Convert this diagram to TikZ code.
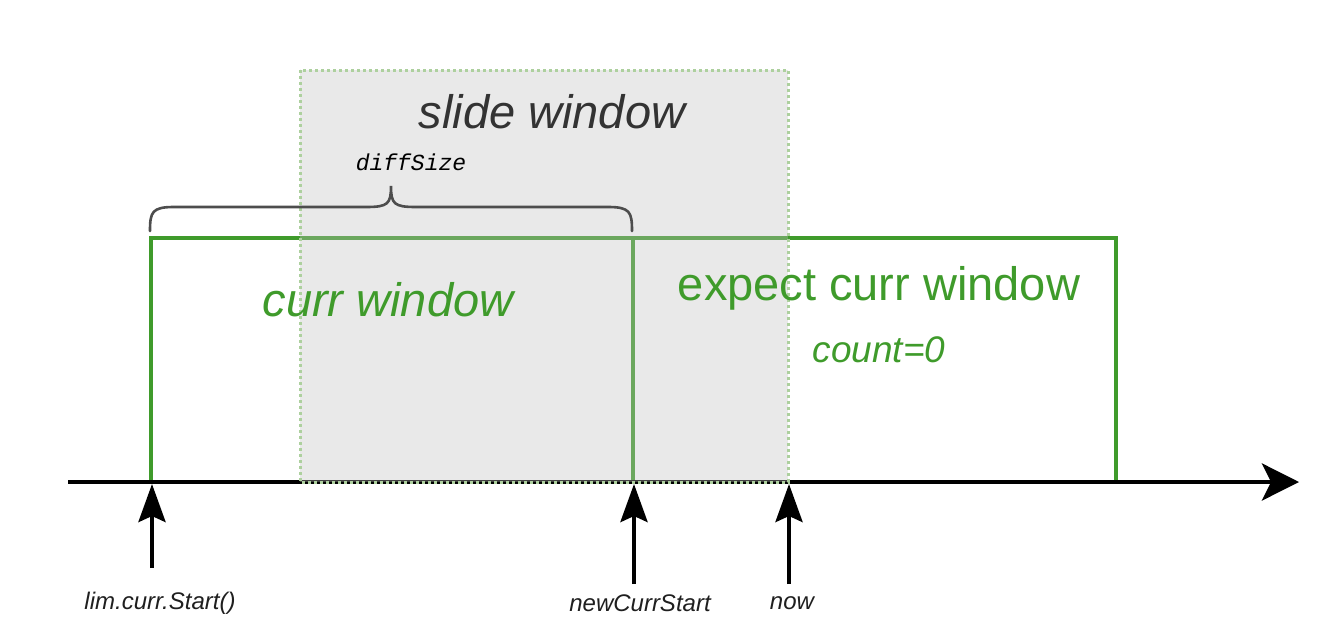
\documentclass[tikz,border=0pt]{standalone}
\usepackage{fontspec}
\setmainfont{Liberation Sans}
\setmonofont{Liberation Mono}
\usetikzlibrary{arrows.meta}
\definecolor{gr}{HTML}{3F9B2B}
\definecolor{grlight}{HTML}{ADD09E}
\definecolor{dk}{HTML}{333333}
\definecolor{brc}{HTML}{4D4D4D}
\tikzset{
  winbox/.style={draw=gr, line width=3.2pt},
  slidebox/.style={draw=grlight, line width=3pt, dash pattern=on 3pt off 3pt, fill=black!25, fill opacity=0.35},
  axisline/.style={draw=black, line width=4.2pt, -{Stealth[length=37pt,width=37pt,inset=9pt]}},
  uparrow/.style={draw=black, line width=4.2pt, -{Stealth[length=38pt,width=27pt,inset=6pt]}},
  bigtxt/.style={font=\fontsize{47}{50}\selectfont\itshape, inner sep=0pt},
  lbl/.style={font=\fontsize{24}{26}\selectfont\itshape, text=black!88, inner sep=0pt},
}
\begin{document}
\begin{tikzpicture}[x=1pt,y=-1pt]
\useasboundingbox (0,0) rectangle (1324,642);
% windows
\draw[winbox] (151,482) -- (151,238) -- (633,238) -- (633,482);
\draw[winbox] (633,238) -- (1116,238) -- (1116,482);
% axis
\coordinate (ax0) at (68,482);
\coordinate (ax1) at (1299,482);
\draw[axisline] (ax0) -- (ax1);
% slide window
\path[slidebox] (300,70) rectangle (788,482);
\node[bigtxt, text=dk] (slide) at (552,112) {slide window};
\node[font=\fontsize{23}{26}\selectfont\ttfamily\itshape, text=black, inner sep=0pt] (diff) at (411,162) {diffSize};
% brace
\draw[brc, line width=2.6pt, line cap=round]
  (150,231) .. controls (150,212) and (152,207) .. (174,207) -- (366,207)
  .. controls (388,207) and (391,204) .. (391,186)
  .. controls (391,204) and (394,207) .. (416,207) -- (608,207)
  .. controls (630,207) and (632,212) .. (632,231);
% texts in windows
\node[bigtxt, text=gr] (curr) at (388,300) {curr window};
\node[font=\fontsize{47}{50}\selectfont, text=gr, inner sep=0pt] (expect) at (879,288) {expect curr window};
\node[font=\fontsize{37}{40}\selectfont\itshape, text=gr, inner sep=0pt] (count) at (879,350) {count=0};
% time markers
\coordinate (t0) at (152,484);
\coordinate (t1) at (634,484);
\coordinate (t2) at (789,484);
\coordinate (b0) at (152,568);
\coordinate (b1) at (634,584);
\coordinate (b2) at (789,584);
\draw[uparrow] (b0) -- (t0);
\draw[uparrow] (b1) -- (t1);
\draw[uparrow] (b2) -- (t2);
\node[lbl] (l0) at (160,603) {lim.curr.Start()};
\node[lbl] (l1) at (640,603) {newCurrStart};
\node[lbl] (l2) at (792,603) {now};
\end{tikzpicture}
\end{document}
